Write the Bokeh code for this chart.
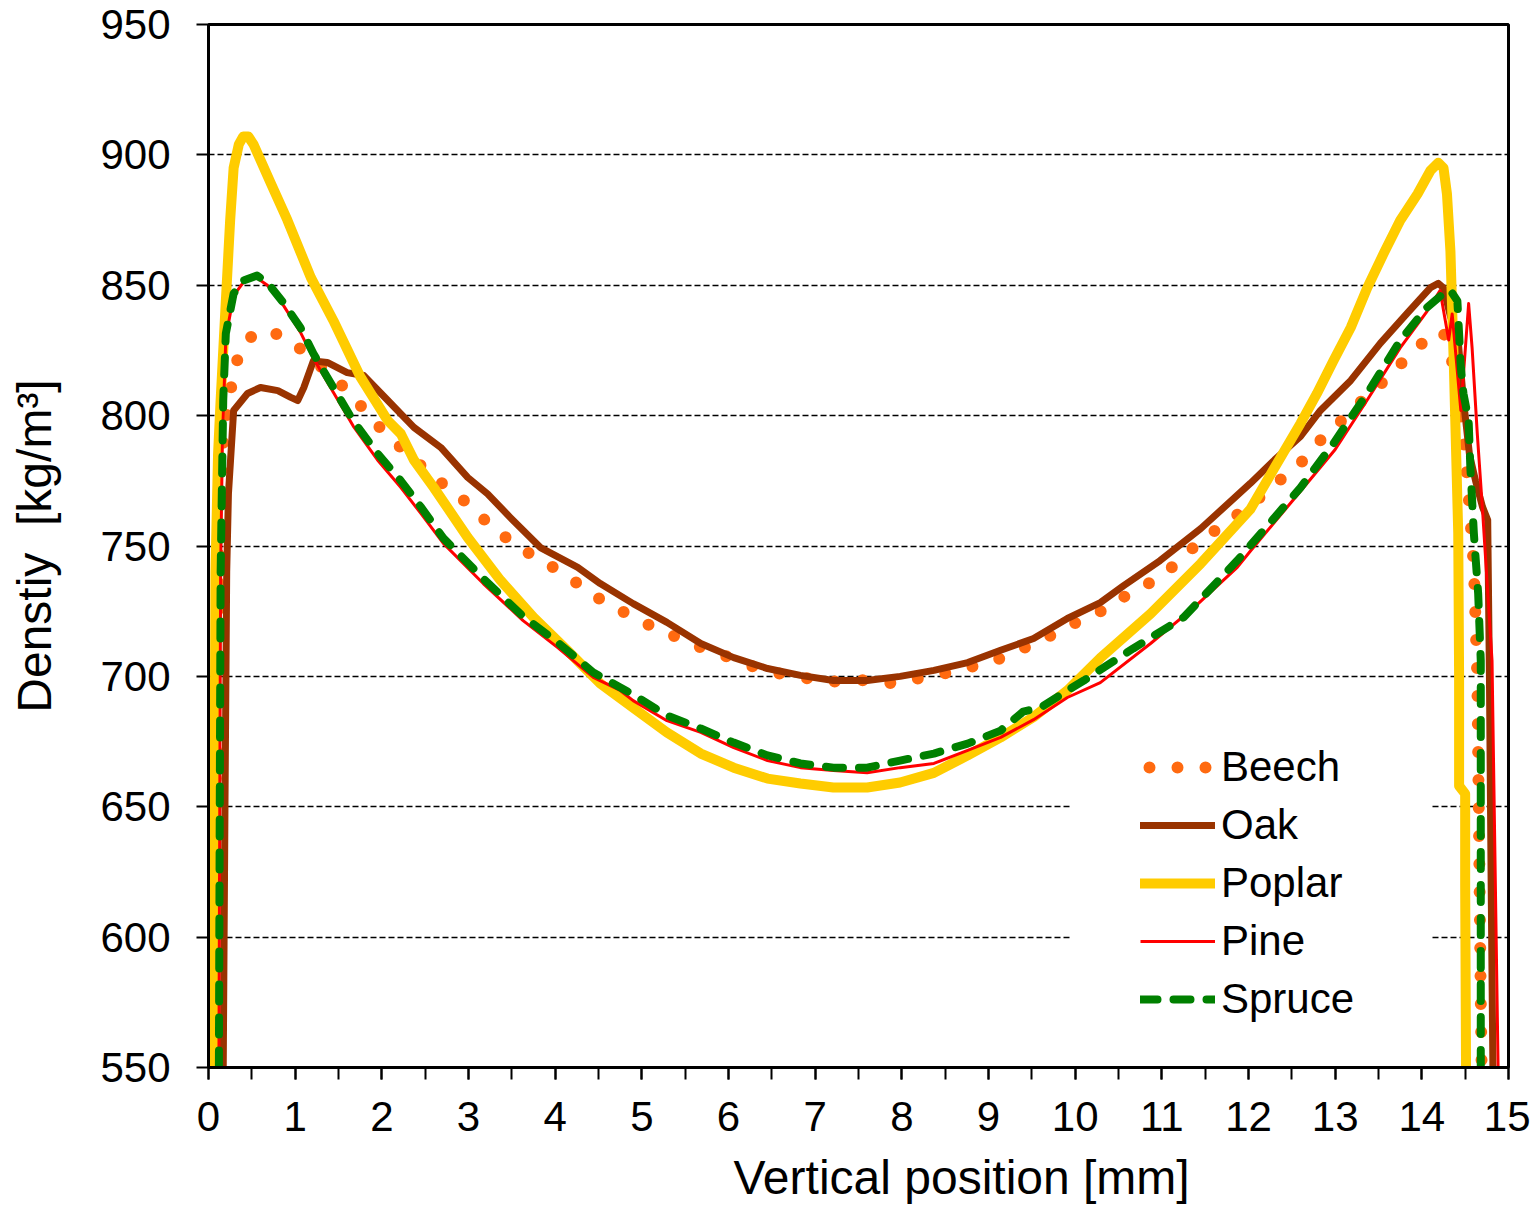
from bokeh.plotting import figure
from bokeh.models import Range1d, SingleIntervalTicker, BoxAnnotation, Legend, Title
from bokeh.embed import file_html
from bokeh.resources import INLINE

# ---- data ----
beech_x = [0.05, 0.08, 0.10, 0.13, 0.17, 0.20, 0.25, 0.29, 0.43, 0.64, 0.89, 1.12, 1.56, 1.75, 1.96,
           2.18, 2.41, 2.62, 2.85, 3.09, 3.29, 3.55, 3.76, 4.00, 4.26, 4.50, 4.72, 4.97, 5.23, 5.48,
           5.76, 6.05, 6.31, 6.60, 6.85, 7.14, 7.39, 7.64, 7.90, 8.19, 8.48, 8.76, 9.02, 9.29, 9.56,
           9.83, 10.10, 10.37, 10.62, 10.87, 11.10, 11.45, 12.02, 12.63, 12.83, 13.04, 13.27, 13.49,
           13.70, 13.89, 14.10, 14.25, 14.40, 14.50, 14.55, 14.60, 14.64, 14.66, 14.68, 14.69]
beech_y = [550, 640, 720, 770, 790, 798, 808, 818, 829, 833, 830, 824, 811, 804, 796,
           789, 782, 776, 770, 763.6, 756, 751, 745.6, 741.4, 735.6, 730, 726, 721.4, 717.6, 713.8,
           710, 706.9, 703.4, 701, 699.6, 698, 698, 698.8, 697.3, 699.2, 701, 703.4, 705.3, 709.2, 713,
           717.6, 722.2, 726, 731.8, 736, 741.4, 752, 765.5, 782.8, 790.5, 797, 804.6, 810.8,
           818, 824.2, 830.7, 832, 815, 785, 765, 742, 700, 640, 576, 550]

oak_x = [0.17, 0.19, 0.21, 0.23, 0.29, 0.45, 0.60, 0.80, 0.95, 1.03, 1.10, 1.21, 1.37, 1.60, 1.79,
         2.07, 2.37, 2.68, 2.99, 3.22, 3.48, 3.83, 4.26, 4.52, 4.90, 5.29, 5.68, 6.06, 6.45, 6.83,
         7.21, 7.60, 7.98, 8.37, 8.76, 9.14, 9.52, 9.91, 10.29, 10.56, 10.98, 11.45, 12.02, 12.30,
         12.60, 12.83, 13.18, 13.52, 13.83, 14.10, 14.19, 14.25, 14.33, 14.41, 14.48, 14.55, 14.62,
         14.70, 14.76, 14.78, 14.80, 14.82]
oak_y = [550, 650, 740, 770, 802, 808.5, 810.8, 809.6, 807, 805.8, 810.8, 821, 820.4, 816.5, 815.4,
         805.8, 795.5, 787.8, 776.3, 770, 761, 749.4, 741.8, 735.6, 727.9, 720.7, 712.6, 707.2, 703, 700.4,
         698.4, 698.4, 700, 702.3, 705.3, 710, 714.5, 722.2, 728.3, 734.8, 744.4, 756.7, 774, 783,
         792, 802, 813.5, 827.7, 839.2, 849.1, 850.7, 849, 838, 832, 806, 785, 775,
         765, 760, 700, 620, 550]

poplar_x = [0.06, 0.07, 0.08, 0.11, 0.14, 0.20, 0.25, 0.29, 0.35, 0.40, 0.46, 0.52, 0.72, 0.91, 1.18,
            1.44, 1.75, 2.07, 2.22, 2.37, 2.60, 2.99, 3.37, 3.75, 4.14, 4.52, 4.90, 5.29, 5.68, 6.06,
            6.45, 6.83, 7.21, 7.60, 7.98, 8.37, 8.76, 9.14, 9.52, 9.91, 10.29, 10.87, 11.45, 12.02,
            12.30, 12.60, 12.79, 12.98, 13.18, 13.37, 13.56, 13.75, 13.95, 14.10, 14.19, 14.25, 14.29,
            14.33, 14.37, 14.39, 14.42, 14.43, 14.43, 14.50, 14.50, 14.51]
poplar_y = [550, 650, 740, 785, 806, 844, 875, 895, 904, 907, 907, 904, 889, 875, 853,
            836.5, 815, 798, 793, 783, 772.4, 753.3, 736.8, 722.6, 710, 697.3, 688, 678.5, 670.4, 665,
            660.8, 658.9, 657.4, 657.4, 659.3, 663, 669.7, 676.6, 684.4, 694.6, 707, 724, 743.3, 764,
            780, 797, 808.5, 821, 833.8, 849, 862.2, 874.8, 885, 894, 897, 895, 885,
            863, 818.5, 793, 755, 700, 658, 655, 620, 550]

pine_x = [0.12, 0.13, 0.14, 0.16, 0.20, 0.29, 0.40, 0.55, 0.68, 0.87, 1.06, 1.21, 1.44, 1.67, 1.95,
          2.22, 2.45, 2.71, 3.17, 3.63, 4.03, 4.44, 4.75, 4.90, 5.29, 5.68, 6.06, 6.45, 6.83, 7.21,
          7.60, 7.98, 8.37, 8.76, 9.14, 9.52, 9.91, 10.29, 10.87, 11.37, 11.87, 12.02, 12.60, 13.00,
          13.37, 13.75, 14.06, 14.21, 14.31, 14.35, 14.45, 14.54, 14.58, 14.64, 14.70, 14.81, 14.87, 14.88]
pine_y = [550, 650, 740, 790, 830, 846, 851, 853, 850, 842, 832, 822, 809, 796, 783,
          772.4, 762.5, 751, 735.6, 721.4, 711, 699.6, 694.6, 690.7, 683, 678.5, 672.7, 667.7, 665, 663.9,
          663, 665, 666.6, 671.6, 676.6, 683.4, 691.9, 697.6, 712.6, 726.4, 741.8, 748, 771, 787,
          806, 826, 840, 848, 829, 839, 802, 843, 826, 793, 764, 706, 572, 550]

spruce_x = [0.12, 0.13, 0.14, 0.17, 0.20, 0.29, 0.40, 0.56, 0.68, 0.87, 1.06, 1.21, 1.44, 1.67, 1.95,
            2.22, 2.45, 2.71, 3.17, 3.63, 4.03, 4.44, 4.52, 4.90, 5.29, 5.68, 6.06, 6.45, 6.83, 7.21,
            7.60, 7.98, 8.37, 8.76, 9.14, 9.40, 9.60, 9.91, 10.10, 10.67, 11.25, 11.87, 12.60, 12.98,
            13.37, 13.75, 14.06, 14.29, 14.33, 14.41, 14.45, 14.48, 14.54, 14.56, 14.60, 14.65, 14.68,
            14.68, 14.68]
spruce_y = [550, 650, 740, 806, 831.5, 846.8, 851.8, 853.7, 851, 843, 833.8, 823.8, 810.8, 798, 785.5,
            775, 765, 753, 737.5, 723, 713, 701.5, 700, 693, 685, 680, 674.6, 669.7, 666.6, 665,
            665, 667.7, 670.4, 674.2, 679.2, 686.5, 688, 694.6, 698.4, 710.7, 722.6, 744.4, 772.4, 789.3,
            808.5, 828.8, 841.5, 848, 848, 844, 818.5, 808.5, 798, 780, 755, 731.8, 706,
            640, 550]

series_names = ["Beech", "Oak", "Poplar", "Pine", "Spruce"]
x_title = "Vertical position [mm]"
y_title = "Denstiy\u00a0 [kg/m³]"
x_ticks_interval = 1
y_ticks_interval = 50

FONT = "Liberation Sans"

p = figure(
    frame_width=1300, frame_height=1043,
    min_border_left=208, min_border_right=22, min_border_top=24, min_border_bottom=157,
    x_range=Range1d(0, 15), y_range=Range1d(550, 950),
    output_backend="svg", toolbar_location=None,
    background_fill_color="white", border_fill_color="white",
)

p.outline_line_color = "black"
p.outline_line_width = 3

# axes
p.xaxis.ticker = SingleIntervalTicker(interval=x_ticks_interval, num_minor_ticks=2)
p.yaxis.ticker = SingleIntervalTicker(interval=y_ticks_interval, num_minor_ticks=0)
for ax in (p.xaxis[0], p.yaxis[0]):
    ax.axis_line_width = 3
    ax.axis_line_color = "black"
    ax.major_tick_line_width = 2
    ax.major_tick_line_color = "black"
    ax.major_tick_in = 0
    ax.major_tick_out = 12
    ax.major_label_text_font = FONT
    ax.major_label_text_font_size = "42px"
    ax.major_label_text_color = "black"

p.xaxis.minor_tick_line_width = 2
p.xaxis.minor_tick_line_color = "black"
p.xaxis.minor_tick_in = 0
p.xaxis.minor_tick_out = 12
p.yaxis.minor_tick_line_color = None

p.xaxis.major_label_standoff = 22
p.yaxis.major_label_standoff = 26

# y title as the axis label
p.yaxis.axis_label = y_title
p.yaxis.axis_label_text_font = FONT
p.yaxis.axis_label_text_font_size = "48px"
p.yaxis.axis_label_text_font_style = "normal"
p.yaxis.axis_label_text_color = "black"
p.yaxis.axis_label_standoff = 36

# x title: placed right of centre, as in the reference
xt = Title(text=x_title, align="left", offset=525, standoff=30,
           text_font=FONT, text_font_size="48px", text_font_style="normal", text_color="black")
p.add_layout(xt, "below")

# grid
p.xgrid.grid_line_color = None
p.ygrid.grid_line_color = "black"
p.ygrid.grid_line_width = 1.5
p.ygrid.grid_line_dash = "6 3"

# white area behind the legend (hides grid lines only)
legend_bg = BoxAnnotation(left=9.95, right=14.1, bottom=550, top=680,
                          fill_color="white", fill_alpha=1.0, line_alpha=0, level="underlay")
p.add_layout(legend_bg)

r_beech = p.line(beech_x, beech_y, line_color="#FF6A10", line_width=12,
                 line_dash="0 28", line_dash_offset=19, line_cap="round", line_join="round")
r_oak = p.line(oak_x, oak_y, line_color="#993300", line_width=7, line_join="round", line_cap="round")
r_poplar = p.line(poplar_x, poplar_y, line_color="#FFCC00", line_width=10, line_join="round", line_cap="round")
r_pine = p.line(pine_x, pine_y, line_color="#FF0000", line_width=3, line_join="round")
r_spruce = p.line(spruce_x, spruce_y, line_color="#008000", line_width=8,
                  line_dash="17 16", line_cap="round", line_join="round")

legend = Legend(
    items=[(n, [r]) for n, r in zip(series_names, [r_beech, r_oak, r_poplar, r_pine, r_spruce])],
    location=(932, 39),
    background_fill_color="white", background_fill_alpha=1.0,
    border_line_color=None,
    padding=10, spacing=0, margin=0,
    glyph_width=75, glyph_height=58, label_height=58, label_standoff=6,
    label_text_font=FONT, label_text_font_size="42px", label_text_color="black",
)
p.add_layout(legend, "center")

open("out.html", "w").write(file_html(p, INLINE))
